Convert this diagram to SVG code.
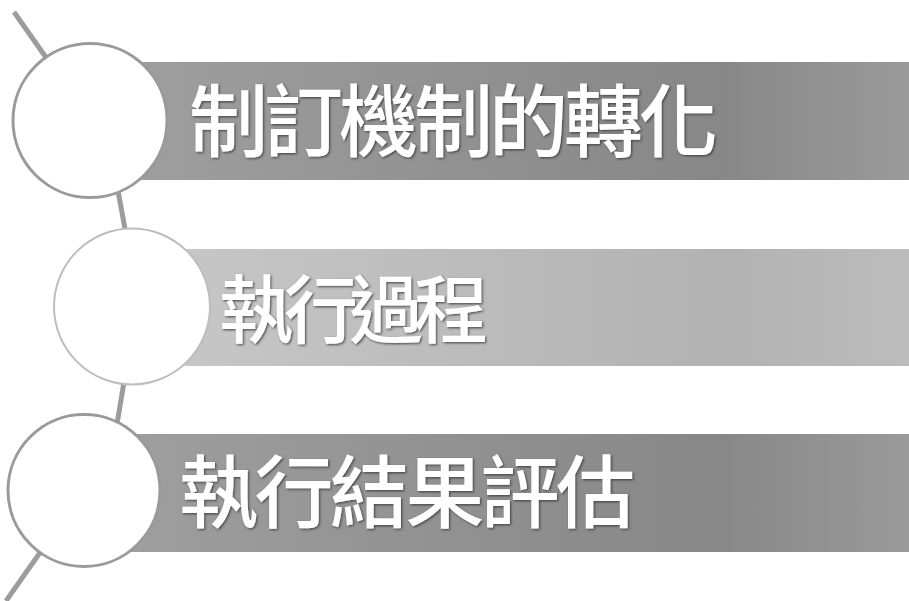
<svg xmlns="http://www.w3.org/2000/svg" width="909" height="601" viewBox="0 0 909 601">
<style>
.conn{stroke:#9c9c9c;stroke-width:5;stroke-linecap:butt;fill:none}
.ring{fill:#ffffff;stroke:#9a9a9a;stroke-width:3}
.ring2{fill:#ffffff;stroke:#bdbdbd;stroke-width:2}
.lbl{font-family:"Noto Sans CJK TC","Noto Sans CJK SC",sans-serif;font-weight:500;fill:#ffffff;filter:url(#sh)}
</style>
<defs>
<linearGradient id="gDark" x1="0" y1="0" x2="1" y2="0">
<stop offset="0" stop-color="#9e9e9e"/>
<stop offset="0.75" stop-color="#878787"/>
<stop offset="1" stop-color="#9a9a9a"/>
</linearGradient>
<linearGradient id="gLight" x1="0" y1="0" x2="1" y2="0">
<stop offset="0" stop-color="#c6c6c6"/>
<stop offset="0.75" stop-color="#b2b2b2"/>
<stop offset="1" stop-color="#bcbcbc"/>
</linearGradient>
<filter id="sh" x="-5%" y="-10%" width="110%" height="130%">
<feDropShadow dx="1.2" dy="1.2" stdDeviation="0.8" flood-color="#333333" flood-opacity="0.8"/>
</filter>
</defs>
<rect width="909" height="601" fill="#ffffff"/>
<g id="connectors">
<line class="conn" x1="14" y1="12" x2="90" y2="120"/>
<line class="conn" x1="116" y1="180" x2="128" y2="245"/>
<line class="conn" x1="126" y1="370" x2="116" y2="430"/>
<line class="conn" x1="84" y1="490" x2="6" y2="601"/>
</g>
<g id="node1">
<rect x="140" y="62" width="769" height="118" fill="url(#gDark)"/>
<circle class="ring" cx="90" cy="120.5" r="77"/>
<text class="lbl" x="189" y="151" font-size="79" letter-spacing="-4">制訂機制的轉化</text>
</g>
<g id="node2">
<rect x="185" y="249" width="724" height="117" fill="url(#gLight)"/>
<circle class="ring2" cx="132" cy="306.5" r="78"/>
<text class="lbl" x="219" y="337" font-size="74" letter-spacing="-9">執行過程</text>
</g>
<g id="node3">
<rect x="130" y="434" width="779" height="118" fill="url(#gDark)"/>
<circle class="ring" cx="84" cy="490.5" r="76"/>
<text class="lbl" x="179" y="522" font-size="79" letter-spacing="-3.6">執行結果評估</text>
</g>
</svg>
